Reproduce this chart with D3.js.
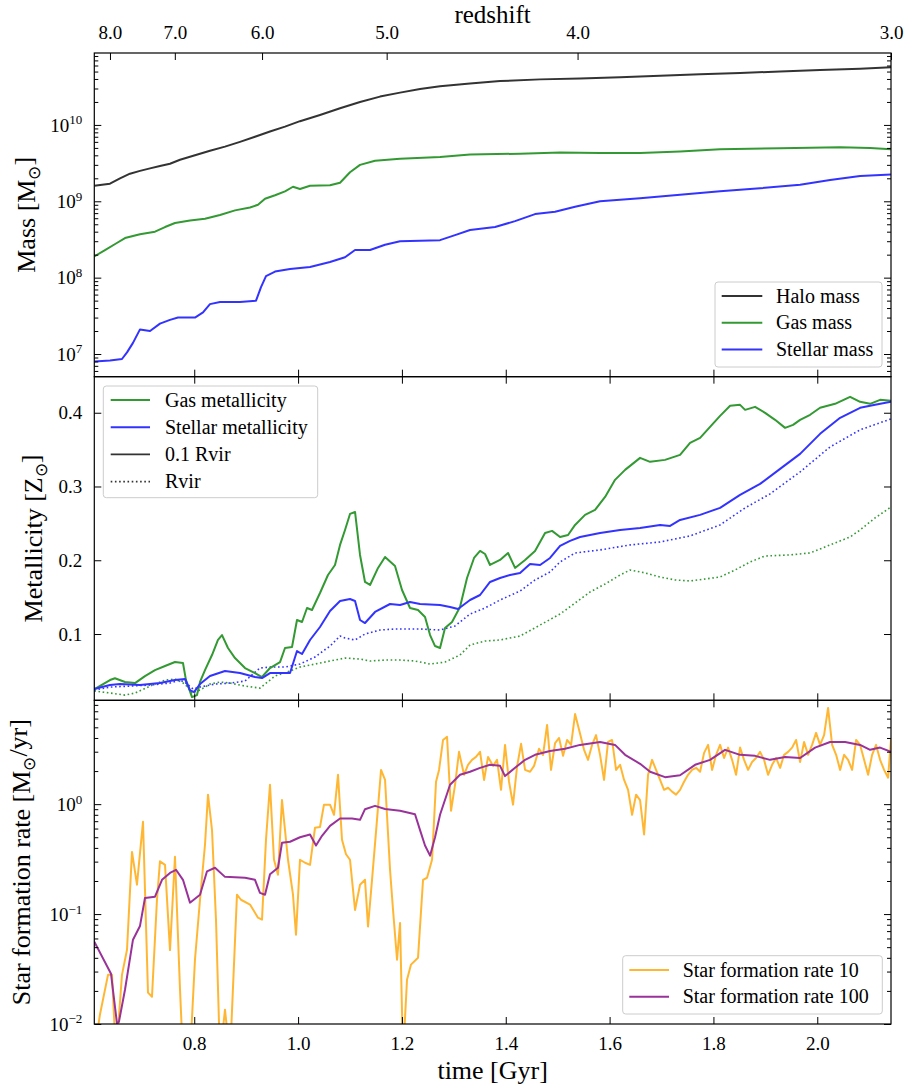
<!DOCTYPE html>
<html><head><meta charset="utf-8">
<script src="https://cdn.jsdelivr.net/npm/d3@7"></script>
<style>
body{margin:0;background:#fff}
text{font-family:"Liberation Serif","Times New Roman",serif;fill:#000}
</style>
</head><body>
<svg id="c" width="907" height="1089"></svg>
<script>
// ---------------- DATA ----------------
const timeDomain = [0.6075, 2.142];
const timeTicks = [0.8, 1.0, 1.2, 1.4, 1.6, 1.8, 2.0];
const redshiftLabels = ["8.0", "7.0", "6.0", "5.0", "4.0", "3.0"];
const redshiftTime = [0.6377, 0.7626, 0.9306, 1.1706, 1.5383, 2.142];

const massTicks = [1e7, 1e8, 1e9, 1e10];
const metalTicks = [0.1, 0.2, 0.3, 0.4];
const sfrTicks = [0.01, 0.1, 1];

const haloTime = [0.6075,0.6377,0.657,0.6762,0.6955,0.7148,0.734,0.7533,0.7726,0.8014,0.8303,0.8592,0.8881,0.917,0.9459,0.9748,1.0037,1.0422,1.0808,1.1193,1.1578,1.1964,1.2349,1.2734,1.3312,1.389,1.4661,1.5431,1.6202,1.6972,1.7743,1.8513,1.9284,2.0054,2.0825,2.1422];
const haloMass = [1.6e9,1.7e9,2.0e9,2.3e9,2.5e9,2.7e9,2.9e9,3.1e9,3.5e9,4.0e9,4.6e9,5.2e9,6.0e9,7.0e9,8.2e9,9.5e9,1.12e10,1.35e10,1.65e10,2.0e10,2.35e10,2.65e10,2.95e10,3.2e10,3.5e10,3.75e10,3.95e10,4.05e10,4.2e10,4.4e10,4.6e10,4.8e10,5.0e10,5.25e10,5.45e10,5.7e10];

const gasTime = [0.6075,0.6281,0.6493,0.6666,0.6955,0.7244,0.7437,0.7629,0.7918,0.8207,0.8496,0.8785,0.9074,0.9228,0.9363,0.9556,0.9748,0.9902,1.0037,1.023,1.0615,1.0808,1.1,1.1193,1.1482,1.1964,1.2734,1.3312,1.4275,1.5046,1.5816,1.6587,1.7357,1.8128,1.9284,2.044,2.1018,2.1422];
const gasMass = [1.9e8,2.3e8,2.8e8,3.3e8,3.7e8,4.0e8,4.6e8,5.2e8,5.6e8,5.9e8,6.6e8,7.6e8,8.3e8,9.0e8,1.08e9,1.2e9,1.35e9,1.55e9,1.45e9,1.6e9,1.62e9,1.75e9,2.4e9,3.0e9,3.4e9,3.6e9,3.8e9,4.1e9,4.2e9,4.35e9,4.3e9,4.3e9,4.5e9,4.8e9,4.95e9,5.1e9,5.0e9,4.8e9];

const starTime = [0.6075,0.6377,0.6608,0.6705,0.682,0.6955,0.7148,0.734,0.7533,0.7687,0.8014,0.8169,0.8303,0.8496,0.8881,0.919,0.9286,0.9382,0.9556,0.9845,1.023,1.0615,1.0904,1.1097,1.1386,1.1675,1.1964,1.2734,1.3023,1.3312,1.3794,1.4179,1.4564,1.495,1.5335,1.5816,1.6587,1.7357,1.8128,1.8898,1.9669,2.0247,2.0825,2.1422];
const starMass = [8.0e6,8.2e6,8.6e6,1.05e7,1.4e7,2.1e7,2.0e7,2.5e7,2.8e7,3.0e7,3.0e7,3.5e7,4.5e7,4.8e7,4.8e7,5.0e7,7.5e7,1.05e8,1.2e8,1.3e8,1.38e8,1.6e8,1.85e8,2.3e8,2.3e8,2.7e8,3.0e8,3.1e8,3.6e8,4.2e8,4.6e8,5.5e8,6.8e8,7.3e8,8.5e8,1.0e9,1.1e9,1.22e9,1.35e9,1.48e9,1.65e9,1.9e9,2.15e9,2.25e9];

const gasZInTime = [0.6075,0.6377,0.6473,0.6666,0.6859,0.7051,0.7244,0.7437,0.7629,0.7783,0.7841,0.7957,0.8053,0.8111,0.8207,0.8342,0.8457,0.8535,0.865,0.8785,0.8978,0.917,0.9305,0.9459,0.9652,0.9748,0.9883,0.9979,1.0076,1.0172,1.0268,1.0422,1.0576,1.0711,1.0808,1.0904,1.1,1.1097,1.1193,1.1289,1.1386,1.154,1.1675,1.1867,1.2002,1.2156,1.231,1.2445,1.2542,1.2638,1.2734,1.283,1.2965,1.3119,1.3254,1.3389,1.3505,1.3601,1.3697,1.389,1.4044,1.4179,1.4372,1.4564,1.4757,1.4892,1.5046,1.52,1.5335,1.5527,1.572,1.5913,1.6105,1.6298,1.6587,1.678,1.7068,1.7357,1.755,1.7743,1.7935,1.8128,1.8321,1.8513,1.861,1.8802,1.8995,1.9187,1.938,1.9534,1.9669,1.9862,2.0054,2.0343,2.0632,2.0825,2.1018,2.121,2.1422];
const gasZIn = [0.025,0.0376,0.040,0.035,0.0335,0.043,0.051,0.0566,0.062,0.0607,0.0376,0.0145,0.0172,0.035,0.051,0.0715,0.092,0.0986,0.081,0.0674,0.0539,0.047,0.0417,0.0539,0.062,0.081,0.0824,0.119,0.1163,0.1353,0.1326,0.1556,0.18,0.1936,0.2208,0.2411,0.2628,0.2655,0.2072,0.1706,0.1665,0.1896,0.2045,0.1923,0.1597,0.1353,0.1326,0.1231,0.0986,0.0837,0.081,0.1081,0.1163,0.1366,0.176,0.2031,0.2126,0.2085,0.1936,0.2004,0.2099,0.1896,0.2004,0.2126,0.237,0.2398,0.2316,0.2343,0.2479,0.2615,0.2682,0.2859,0.309,0.3225,0.3388,0.3334,0.3361,0.3429,0.3592,0.3659,0.3809,0.3958,0.4094,0.4107,0.4039,0.408,0.3999,0.3904,0.3795,0.3836,0.3904,0.3972,0.4067,0.4121,0.4216,0.4148,0.4121,0.4175,0.4161];

const starZInTime = [0.6075,0.6377,0.657,0.6955,0.734,0.7629,0.7822,0.7918,0.7995,0.8111,0.8303,0.8592,0.8881,0.917,0.9305,0.9459,0.969,0.9845,0.9979,1.0076,1.023,1.0422,1.0615,1.0808,1.1,1.1097,1.1193,1.1289,1.1482,1.1771,1.1964,1.2156,1.2349,1.2734,1.2927,1.3081,1.3312,1.3505,1.3697,1.389,1.4083,1.4275,1.4468,1.4661,1.4853,1.5046,1.5238,1.5431,1.5816,1.6202,1.6587,1.6972,1.7165,1.7357,1.7743,1.8128,1.8513,1.8898,1.9284,1.9669,2.0054,2.044,2.0825,2.1114,2.1422];
const starZIn = [0.0254,0.0308,0.0322,0.0308,0.0335,0.0376,0.039,0.024,0.0213,0.0322,0.043,0.0498,0.0471,0.0417,0.0403,0.0471,0.0471,0.0471,0.0769,0.0729,0.0919,0.1095,0.1312,0.1448,0.1475,0.1448,0.119,0.1149,0.1299,0.1407,0.1393,0.1434,0.1407,0.1393,0.1366,0.1339,0.1461,0.1529,0.1706,0.176,0.1801,0.1828,0.195,0.1936,0.2031,0.2194,0.2262,0.2316,0.237,0.2411,0.2438,0.2479,0.2465,0.2547,0.2615,0.271,0.2886,0.3035,0.3239,0.3442,0.3714,0.3931,0.4067,0.4107,0.4148];

const starZOutTime = [0.6075,0.6377,0.6762,0.7148,0.7533,0.7726,0.7841,0.7976,0.8111,0.84,0.8689,0.8978,0.9266,0.9459,0.9748,1.0037,1.0326,1.0615,1.0808,1.0904,1.1097,1.1289,1.1578,1.1867,1.2349,1.2734,1.3023,1.3312,1.3601,1.389,1.4275,1.4564,1.4853,1.5046,1.5335,1.5816,1.6394,1.6972,1.755,1.8128,1.861,1.9091,1.9669,2.0247,2.0825,2.1422];
const starZOut = [0.024,0.0281,0.0294,0.0308,0.0335,0.0376,0.0335,0.0254,0.0281,0.0322,0.0335,0.0362,0.0539,0.0552,0.0552,0.0593,0.0688,0.0837,0.0973,0.0946,0.0919,0.1,0.1054,0.1068,0.1068,0.1054,0.1109,0.1271,0.1353,0.1461,0.1583,0.1733,0.1841,0.1977,0.2099,0.214,0.2208,0.2248,0.233,0.2479,0.271,0.29,0.3198,0.3537,0.3768,0.3917];

const gasZOutTime = [0.6075,0.6377,0.6666,0.6859,0.7148,0.7437,0.7629,0.7822,0.7957,0.8111,0.8303,0.8496,0.8689,0.8978,0.9266,0.9556,0.9845,1.0037,1.0326,1.0615,1.0904,1.1193,1.1386,1.1675,1.1964,1.2252,1.2542,1.283,1.3119,1.3312,1.3601,1.389,1.4275,1.4661,1.5046,1.5335,1.5624,1.5913,1.6202,1.6394,1.6683,1.6972,1.7261,1.755,1.7839,1.8128,1.8417,1.8706,1.8995,1.9476,1.9862,2.0247,2.0632,2.0825,2.1114,2.1422];
const gasZOut = [0.0227,0.02,0.0172,0.02,0.0294,0.0376,0.039,0.0322,0.02,0.024,0.0322,0.0349,0.0335,0.0294,0.0267,0.043,0.0498,0.0552,0.0593,0.0634,0.0674,0.0661,0.0634,0.0647,0.0647,0.0634,0.0593,0.062,0.0715,0.0851,0.0905,0.0919,0.0973,0.1122,0.1271,0.1421,0.157,0.1678,0.18,0.1868,0.1828,0.1773,0.1733,0.1719,0.1746,0.1773,0.1868,0.1977,0.2058,0.2072,0.2099,0.2208,0.2316,0.2411,0.2574,0.2723];

const sfr100Time = [0.6075,0.6397,0.6512,0.655,0.6666,0.682,0.6955,0.7051,0.7244,0.7379,0.7533,0.7649,0.7783,0.7918,0.8111,0.8246,0.84,0.8592,0.8978,0.917,0.9266,0.9363,0.9459,0.9613,0.969,0.9845,1.0037,1.023,1.0345,1.0461,1.0615,1.0808,1.1039,1.1193,1.1289,1.1482,1.1675,1.1964,1.2252,1.2349,1.2445,1.2542,1.2638,1.2734,1.2927,1.3119,1.3312,1.3505,1.3697,1.389,1.3986,1.4179,1.4372,1.4564,1.4853,1.5142,1.5431,1.5816,1.6105,1.6298,1.6587,1.678,1.7068,1.7357,1.7646,1.7935,1.8224,1.8513,1.8802,1.9091,1.938,1.9669,1.9958,2.0247,2.0536,2.0825,2.1018,2.121,2.1422];
const sfr100 = [0.056,0.0286,0.0101,0.0105,0.0205,0.0585,0.078,0.14,0.144,0.205,0.237,0.253,0.205,0.127,0.15,0.245,0.264,0.218,0.214,0.205,0.156,0.15,0.23,0.264,0.445,0.455,0.5,0.53,0.42,0.515,0.635,0.74,0.74,0.72,0.9,0.965,0.905,0.87,0.81,0.58,0.42,0.34,0.5,0.8,1.5,1.85,1.97,2.14,2.28,2.23,1.8,2.14,2.53,2.81,3.05,3.19,3.46,3.68,3.46,2.81,2.33,1.97,1.76,1.83,2.28,2.53,3.12,2.81,2.75,2.53,2.69,2.63,3.27,3.68,3.68,3.46,3.12,3.27,2.99];

const sfr10Time = [0.6075,0.6184,0.6339,0.6416,0.6493,0.6608,0.6705,0.6801,0.6897,0.7013,0.7109,0.7186,0.7282,0.734,0.7437,0.7533,0.7629,0.7726,0.7783,0.7918,0.8014,0.8111,0.8207,0.8265,0.8342,0.8419,0.8496,0.8592,0.8689,0.8823,0.89,0.9074,0.9228,0.9305,0.9382,0.9459,0.9536,0.9613,0.969,0.9806,0.9902,0.996,1.0037,1.0134,1.023,1.0326,1.0422,1.0499,1.0615,1.0692,1.0769,1.0846,1.0923,1.1,1.1097,1.1193,1.1289,1.1347,1.1424,1.152,1.1598,1.1675,1.1771,1.1829,1.1906,1.1964,1.2021,1.2098,1.2175,1.231,1.2407,1.2484,1.258,1.2657,1.2715,1.2792,1.2869,1.2946,1.3023,1.31,1.3196,1.3273,1.335,1.3427,1.3505,1.3582,1.3659,1.3755,1.3832,1.3909,1.3986,1.4063,1.414,1.4217,1.4295,1.4372,1.4468,1.4545,1.4641,1.4718,1.4796,1.4872,1.495,1.5027,1.5104,1.5181,1.5258,1.5335,1.5412,1.5508,1.5585,1.5662,1.5739,1.5816,1.5893,1.597,1.6047,1.6125,1.6202,1.6279,1.6356,1.6433,1.651,1.6587,1.6664,1.6741,1.6818,1.6895,1.6972,1.7049,1.7126,1.7203,1.728,1.7357,1.7434,1.7511,1.7588,1.7665,1.7743,1.782,1.7897,1.7974,1.8051,1.8128,1.8205,1.8282,1.8359,1.8436,1.8513,1.859,1.8667,1.8744,1.8821,1.8898,1.8975,1.9052,1.913,1.9207,1.9284,1.9361,1.9438,1.9515,1.9592,1.9669,1.9746,1.9823,1.99,1.9977,2.0054,2.0131,2.0208,2.0286,2.0363,2.044,2.0517,2.0594,2.0671,2.0748,2.0825,2.0902,2.0979,2.1056,2.1133,2.121,2.1287,2.1364,2.1422];
const sfr10 = [0.0055,0.0122,0.028,0.028,0.005,0.028,0.0474,0.368,0.185,0.69,0.0193,0.0177,0.135,0.302,0.28,0.047,0.332,0.0205,0.005,0.005,0.0384,0.135,0.427,1.22,0.584,0.0887,0.005,0.0135,0.005,0.15,0.135,0.122,0.0927,0.089,0.475,1.5,0.312,0.228,1.09,0.312,0.15,0.065,0.312,0.293,0.28,0.61,0.62,0.99,0.99,0.8,1.85,0.475,0.35,0.312,0.109,0.185,0.205,0.077,0.205,0.72,2.05,1.66,0.253,0.109,0.0384,0.083,0.005,0.0253,0.0347,0.04,0.205,0.214,0.312,1.6,2.05,3.84,4.1,0.87,1.5,2.99,1.85,2.28,2.53,2.69,2.99,1.66,2.69,2.23,2.53,1.35,3.46,1.6,0.99,2.19,3.54,2.05,1.97,2.23,3.19,2.81,5.26,2.05,3.6,4.0,2.75,3.84,3.46,6.6,4.75,3.12,2.53,3.46,4.25,2.81,1.66,3.68,3.84,2.05,2.28,1.66,1.35,0.8,1.22,1.09,0.53,1.85,2.53,2.05,1.66,1.35,1.41,1.3,1.22,1.35,1.6,1.85,2.05,2.14,1.97,2.93,3.46,2.05,2.81,3.46,2.63,3.27,2.53,1.85,3.27,2.53,2.05,2.42,2.63,2.99,2.53,1.85,2.28,2.63,2.14,2.81,2.99,3.27,3.84,2.42,3.68,2.81,3.46,4.45,3.46,4.25,7.5,3.46,2.81,2.05,2.81,2.53,2.05,3.84,3.46,2.53,1.85,2.81,3.46,2.53,2.05,1.74,4.0];

// ---------------- LAYOUT ----------------
const L = 94.3, R = 891, T = 53, B = 1024;
const ph = (B - T) / 3;
const tops = [T, T + ph, T + 2 * ph];
const COL = {halo:"#333333", gas:"#339933", star:"#3333ff", sfr10:"#ffb733", sfr100:"#993399"};

const svg = d3.select("#c");
svg.append("rect").attr("width",907).attr("height",1089).attr("fill","#fff");

const x = d3.scaleLinear().domain(timeDomain).range([L, R]);
const yMass = d3.scaleLog().domain([5.05e6, 8.75e10]).range([tops[0] + ph, tops[0]]);
const yMetal = d3.scaleLinear().domain([0.0101, 0.4489]).range([tops[1] + ph, tops[1]]);
const ySfr = d3.scaleLog().domain([0.01, 8.8]).range([tops[2] + ph, tops[2]]);

function minorsFor(scale){
  const [a,b] = scale.domain(); const out=[];
  for(let e=Math.floor(Math.log10(a)); e<=Math.ceil(Math.log10(b)); e++){
    for(let m=2;m<=9;m++){ const v=m*Math.pow(10,e); if(v>=a && v<=b) out.push(v); }
  }
  return out;
}
function style(g){
  g.select(".domain").remove();
  g.selectAll(".tick line").attr("stroke","#000").attr("stroke-width",1);
  g.selectAll(".tick text").attr("font-family",'"Liberation Serif",serif').attr("font-size",19).attr("fill","#000");
  return g;
}

const lineGen = (ys) => d3.line().x(d => x(d[0])).y(d => ys(d[1]));

tops.forEach((top,i)=>{
  svg.append("clipPath").attr("id","clip"+i).append("rect")
    .attr("x",L).attr("y",top).attr("width",R-L).attr("height",ph);
});

function plotLine(i, ys, tArr, vArr, color, opts={}){
  svg.append("path").attr("clip-path",`url(#clip${i})`)
    .datum(d3.zip(tArr, vArr))
    .attr("d", lineGen(ys))
    .attr("fill","none").attr("stroke",color)
    .attr("stroke-width", opts.w || 2)
    .attr("stroke-linejoin","round")
    .attr("stroke-dasharray", opts.dash || null);
}

// Panel 1
plotLine(0, yMass, haloTime, haloMass, COL.halo);
plotLine(0, yMass, gasTime, gasMass, COL.gas);
plotLine(0, yMass, starTime, starMass, COL.star);
// Panel 2
plotLine(1, yMetal, gasZOutTime, gasZOut, COL.gas, {w:1.6, dash:"1.6,2.6"});
plotLine(1, yMetal, starZOutTime, starZOut, COL.star, {w:1.6, dash:"1.6,2.6"});
plotLine(1, yMetal, gasZInTime, gasZIn, COL.gas);
plotLine(1, yMetal, starZInTime, starZIn, COL.star);
// Panel 3
plotLine(2, ySfr, sfr10Time, sfr10, COL.sfr10);
plotLine(2, ySfr, sfr100Time, sfr100, COL.sfr100);

// Axes / ticks
const MAJ = 7, MIN = 4;
const yScales = [yMass, yMetal, ySfr];
yScales.forEach((ys,i)=>{
  const top = tops[i], bot = tops[i]+ph;
  const isLog = i !== 1;
  const majors = i===0 ? massTicks : (i===1 ? metalTicks : sfrTicks);
  const gl = svg.append("g").attr("transform",`translate(${L},0)`)
    .call(d3.axisLeft(ys).tickValues(majors).tickSize(-MAJ).tickPadding(12)
      .tickFormat(isLog ? (d=>"") : d3.format(".1f")));
  style(gl);
  if(isLog){
    gl.selectAll(".tick text").each(function(d){
      const e = Math.round(Math.log10(d));
      const t = d3.select(this); t.text("");
      t.append("tspan").text("10");
      t.append("tspan").attr("dy","-0.55em").attr("font-size",13).text(String(e).replace("-","\u2212"));
    });
  }
  style(svg.append("g").attr("transform",`translate(${R},0)`)
    .call(d3.axisRight(ys).tickValues(majors).tickSize(-MAJ).tickFormat("")));
  if(isLog){
    const mins = minorsFor(ys);
    style(svg.append("g").attr("transform",`translate(${L},0)`)
      .call(d3.axisLeft(ys).tickValues(mins).tickSize(-MIN).tickFormat("")));
    style(svg.append("g").attr("transform",`translate(${R},0)`)
      .call(d3.axisRight(ys).tickValues(mins).tickSize(-MIN).tickFormat("")));
  }
  const gb = svg.append("g").attr("transform",`translate(0,${bot})`)
    .call(d3.axisBottom(x).tickValues(timeTicks).tickSize(-MAJ).tickPadding(13)
      .tickFormat(i===2 ? d3.format(".1f") : ""));
  style(gb);
  if(i===0){
    const gt = svg.append("g").attr("transform",`translate(0,${top})`)
      .call(d3.axisTop(x).tickValues(redshiftTime).tickSize(-MAJ).tickPadding(14.5)
        .tickFormat((d,k)=>redshiftLabels[k]));
    style(gt);
  } else {
    style(svg.append("g").attr("transform",`translate(0,${top})`)
      .call(d3.axisTop(x).tickValues(timeTicks).tickSize(-MAJ).tickFormat("")));
  }
  svg.append("rect").attr("x",L).attr("y",top).attr("width",R-L).attr("height",ph)
    .attr("fill","none").attr("stroke","#000").attr("stroke-width",1.2);
});

// Axis titles
const cx = (L+R)/2;
svg.append("text").attr("x",cx).attr("y",23).attr("text-anchor","middle").attr("font-size",25).text("redshift");
svg.append("text").attr("x",cx).attr("y",1079).attr("text-anchor","middle").attr("font-size",26).text("time [Gyr]");

function yTitle(xPos, yPos, parts){
  const t = svg.append("text").attr("transform",`translate(${xPos},${yPos}) rotate(-90)`)
    .attr("text-anchor","middle").attr("font-size",26);
  parts.forEach(p=>{
    const s = t.append("tspan").text(p.t);
    if(p.sub){ s.attr("font-size",17).attr("dy","0.3em"); }
    if(p.back){ s.attr("dy","-0.3em"); }
  });
}
yTitle(35, tops[0]+ph/2, [{t:"Mass [M"},{t:"\u2299",sub:true},{t:"]",back:true}]);
yTitle(42, tops[1]+ph/2, [{t:"Metallicity [Z"},{t:"\u2299",sub:true},{t:"]",back:true}]);
yTitle(30, tops[2]+ph/2, [{t:"Star formation rate [M"},{t:"\u2299",sub:true},{t:"/yr]",back:true}]);

// Legends
function legend(box, entries){
  svg.append("rect").attr("x",box.x).attr("y",box.y).attr("width",box.w).attr("height",box.h)
    .attr("rx",3).attr("fill","#fff").attr("fill-opacity",0.8).attr("stroke","#cccccc").attr("stroke-width",1);
  entries.forEach((e,k)=>{
    const yy = box.y0 + k*box.dy;
    svg.append("line").attr("x1",box.lx1).attr("x2",box.lx2).attr("y1",yy).attr("y2",yy)
      .attr("stroke",e.c).attr("stroke-width",e.w||2).attr("stroke-dasharray",e.dash||null);
    svg.append("text").attr("x",box.tx).attr("y",yy+6.5).attr("font-size",20).text(e.label);
  });
}
legend({x:715,y:282,w:167,h:85,y0:296,dy:26.7,lx1:721.7,lx2:762.3,tx:776},[
  {label:"Halo mass",c:COL.halo},{label:"Gas mass",c:COL.gas},{label:"Stellar mass",c:COL.star}]);
legend({x:103.3,y:386,w:214.4,h:111.7,y0:400,dy:27.2,lx1:110.7,lx2:150,tx:165},[
  {label:"Gas metallicity",c:COL.gas},{label:"Stellar metallicity",c:COL.star},
  {label:"0.1 Rvir",c:COL.halo,w:1.6},{label:"Rvir",c:COL.halo,w:1.6,dash:"1.6,2.6"}]);
legend({x:622.7,y:955.7,w:259.6,h:58.3,y0:970,dy:26.7,lx1:629.3,lx2:669,tx:682.7},[
  {label:"Star formation rate 10",c:COL.sfr10},{label:"Star formation rate 100",c:COL.sfr100}]);
</script>
</body></html>
